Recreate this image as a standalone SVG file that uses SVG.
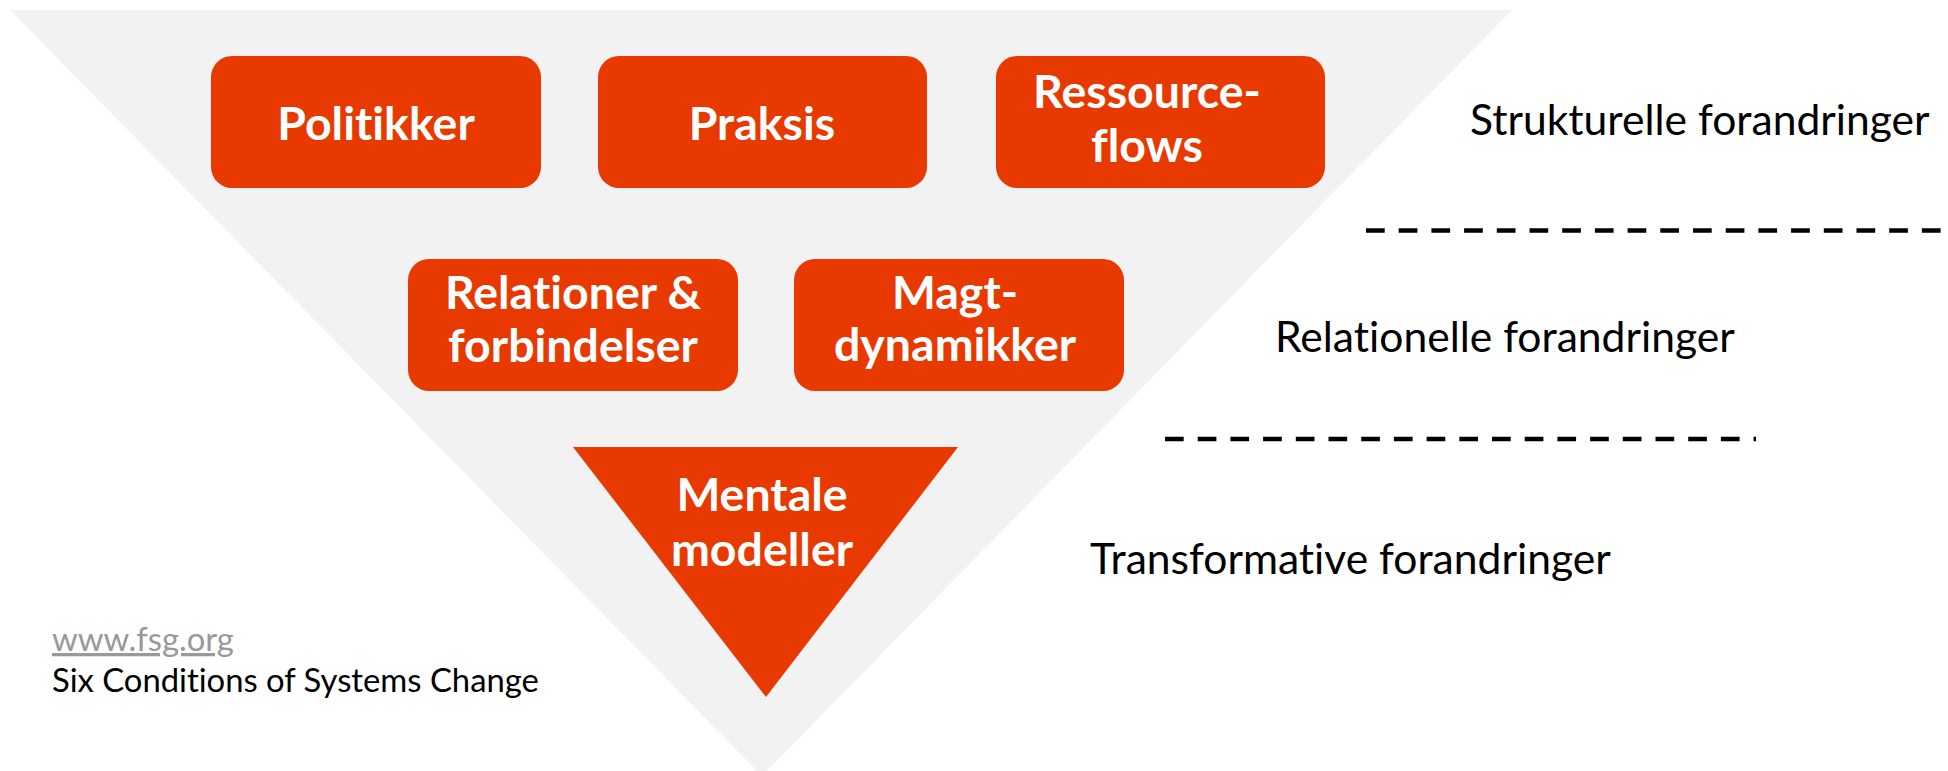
<svg xmlns="http://www.w3.org/2000/svg" width="1948" height="771" viewBox="0 0 1948 771">
  <style>
    text { font-variant-ligatures: none; }
    .box { fill: #E83A00; }
    .lbl { font-family: Lato, "Liberation Sans", sans-serif; font-weight: 700; font-size: 46.5px; fill: #FFFFFF; text-anchor: middle; }
    .side { font-family: Lato, "Liberation Sans", sans-serif; font-weight: 400; font-size: 42.6px; fill: #000000; }
    .foot { font-family: Lato, "Liberation Sans", sans-serif; font-weight: 400; font-size: 32.8px; }
    .dash { stroke: #000000; stroke-width: 4.7; stroke-dasharray: 18.7 14; fill: none; }
  </style>
  <rect x="0" y="0" width="1948" height="771" fill="#FFFFFF"/>
  <g id="background">
    <polygon points="10,10 1512,10 762,776" fill="#F2F2F2"/>
  </g>
  <g id="dividers">
    <line class="dash" x1="1366" y1="230.5" x2="1948" y2="230.5"/>
    <line class="dash" x1="1165" y1="439" x2="1756" y2="439"/>
  </g>
  <g id="node-politikker">
    <rect class="box" x="211" y="56" width="330" height="132" rx="21"/>
    <text class="lbl" x="376" y="140">Politikker</text>
  </g>
  <g id="node-praksis">
    <rect class="box" x="598" y="56" width="329" height="132" rx="21"/>
    <text class="lbl" x="762" y="140">Praksis</text>
  </g>
  <g id="node-ressourceflows">
    <rect class="box" x="996" y="56" width="329" height="132" rx="21"/>
    <text class="lbl" x="1147" y="108">Ressource-</text>
    <text class="lbl" x="1147" y="162">flows</text>
  </g>
  <g id="node-relationer">
    <rect class="box" x="408" y="259" width="330" height="132" rx="21"/>
    <text class="lbl" x="573" y="309">Relationer &amp;</text>
    <text class="lbl" x="573" y="362">forbindelser</text>
  </g>
  <g id="node-magt">
    <rect class="box" x="794" y="259" width="330" height="132" rx="21"/>
    <text class="lbl" x="955" y="309">Magt-</text>
    <text class="lbl" x="955" y="361">dynamikker</text>
  </g>
  <g id="node-mentale">
    <polygon class="box" points="573,447 958,447 766,697"/>
    <text class="lbl" x="762" y="511">Mentale</text>
    <text class="lbl" x="762" y="566">modeller</text>
  </g>
  <g id="level-labels">
    <text class="side" x="1470" y="135">Strukturelle forandringer</text>
    <text class="side" x="1275" y="352">Relationelle forandringer</text>
    <text class="side" x="1090" y="574">Transformative forandringer</text>
  </g>
  <g id="footer">
    <text class="foot" x="52" y="651" fill="#999999" text-decoration="underline">www.fsg.org</text>
    <text class="foot" x="52" y="692" fill="#000000">Six Conditions of Systems Change</text>
  </g>
</svg>
